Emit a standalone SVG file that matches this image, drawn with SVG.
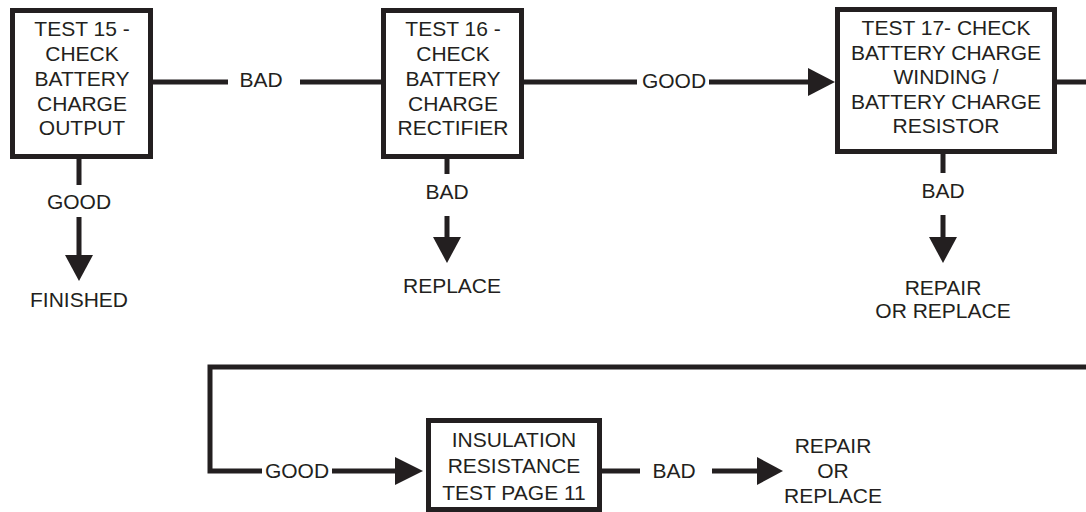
<svg xmlns="http://www.w3.org/2000/svg" width="1086" height="512" viewBox="0 0 1086 512">
<style>
.box{fill:#fff;stroke:#231f20;stroke-width:5}
.ln{fill:none;stroke:#231f20;stroke-width:5}
.ah{fill:#231f20}
text{font-family:"Liberation Sans",Arial,sans-serif;font-size:21px;fill:#231f20;text-anchor:middle}
</style>
<rect width="1086" height="512" fill="#fff"/>
<g id="connectors">
<path class="ln" d="M151,82 H228 M300,82 H383"/>
<path class="ln" d="M521,82 H637 M709,82 H812"/>
<polygon class="ah" points="808,68 808,96 835,82"/>
<path class="ln" d="M1055,82 H1092 V367 H210 V471 H262"/>
<path class="ln" d="M332,471 H398"/>
<polygon class="ah" points="395,457 395,485 423,471"/>
<path class="ln" d="M600,471 H640 M712,471 H760"/>
<polygon class="ah" points="757,457 757,485 783,471"/>
<path class="ln" d="M79,157 V185 M79,217 V258"/>
<polygon class="ah" points="65,255 93,255 79,281"/>
<path class="ln" d="M447,157 V174 M447,216 V240"/>
<polygon class="ah" points="433,237 461,237 447,263"/>
<path class="ln" d="M943,152 V173 M943,215 V240"/>
<polygon class="ah" points="929,237 957,237 943,263"/>
<text x="261" y="87">BAD</text>
<text x="674" y="88">GOOD</text>
<text x="79" y="209">GOOD</text>
<text x="447" y="199">BAD</text>
<text x="943" y="198">BAD</text>
<text x="297" y="478">GOOD</text>
<text x="674" y="478">BAD</text>
</g>
<g id="test15">
<rect class="box" x="12.5" y="10.5" width="138" height="146"/>
<text x="82" y="36">TEST 15 -</text>
<text x="82" y="61">CHECK</text>
<text x="82" y="86">BATTERY</text>
<text x="82" y="111">CHARGE</text>
<text x="82" y="135">OUTPUT</text>
</g>
<g id="test16">
<rect class="box" x="383.5" y="10.5" width="138" height="146"/>
<text x="453" y="36">TEST 16 -</text>
<text x="453" y="61">CHECK</text>
<text x="453" y="86">BATTERY</text>
<text x="453" y="111">CHARGE</text>
<text x="453" y="135">RECTIFIER</text>
</g>
<g id="test17">
<rect class="box" x="837.5" y="9.5" width="217" height="142"/>
<text x="946" y="35">TEST 17- CHECK</text>
<text x="946" y="60">BATTERY CHARGE</text>
<text x="946" y="84">WINDING /</text>
<text x="946" y="109">BATTERY CHARGE</text>
<text x="946" y="133">RESISTOR</text>
</g>
<g id="insulation">
<rect class="box" x="428.5" y="420.5" width="171" height="89"/>
<text x="514" y="447">INSULATION</text>
<text x="514" y="473">RESISTANCE</text>
<text x="514" y="500">TEST PAGE 11</text>
</g>
<g id="finished"><text x="79" y="307">FINISHED</text></g>
<g id="replace16"><text x="452" y="293">REPLACE</text></g>
<g id="repair17">
<text x="943" y="295">REPAIR</text>
<text x="943" y="318">OR REPLACE</text>
</g>
<g id="repairIns">
<text x="833" y="453">REPAIR</text>
<text x="833" y="478">OR</text>
<text x="833" y="503">REPLACE</text>
</g>
</svg>
